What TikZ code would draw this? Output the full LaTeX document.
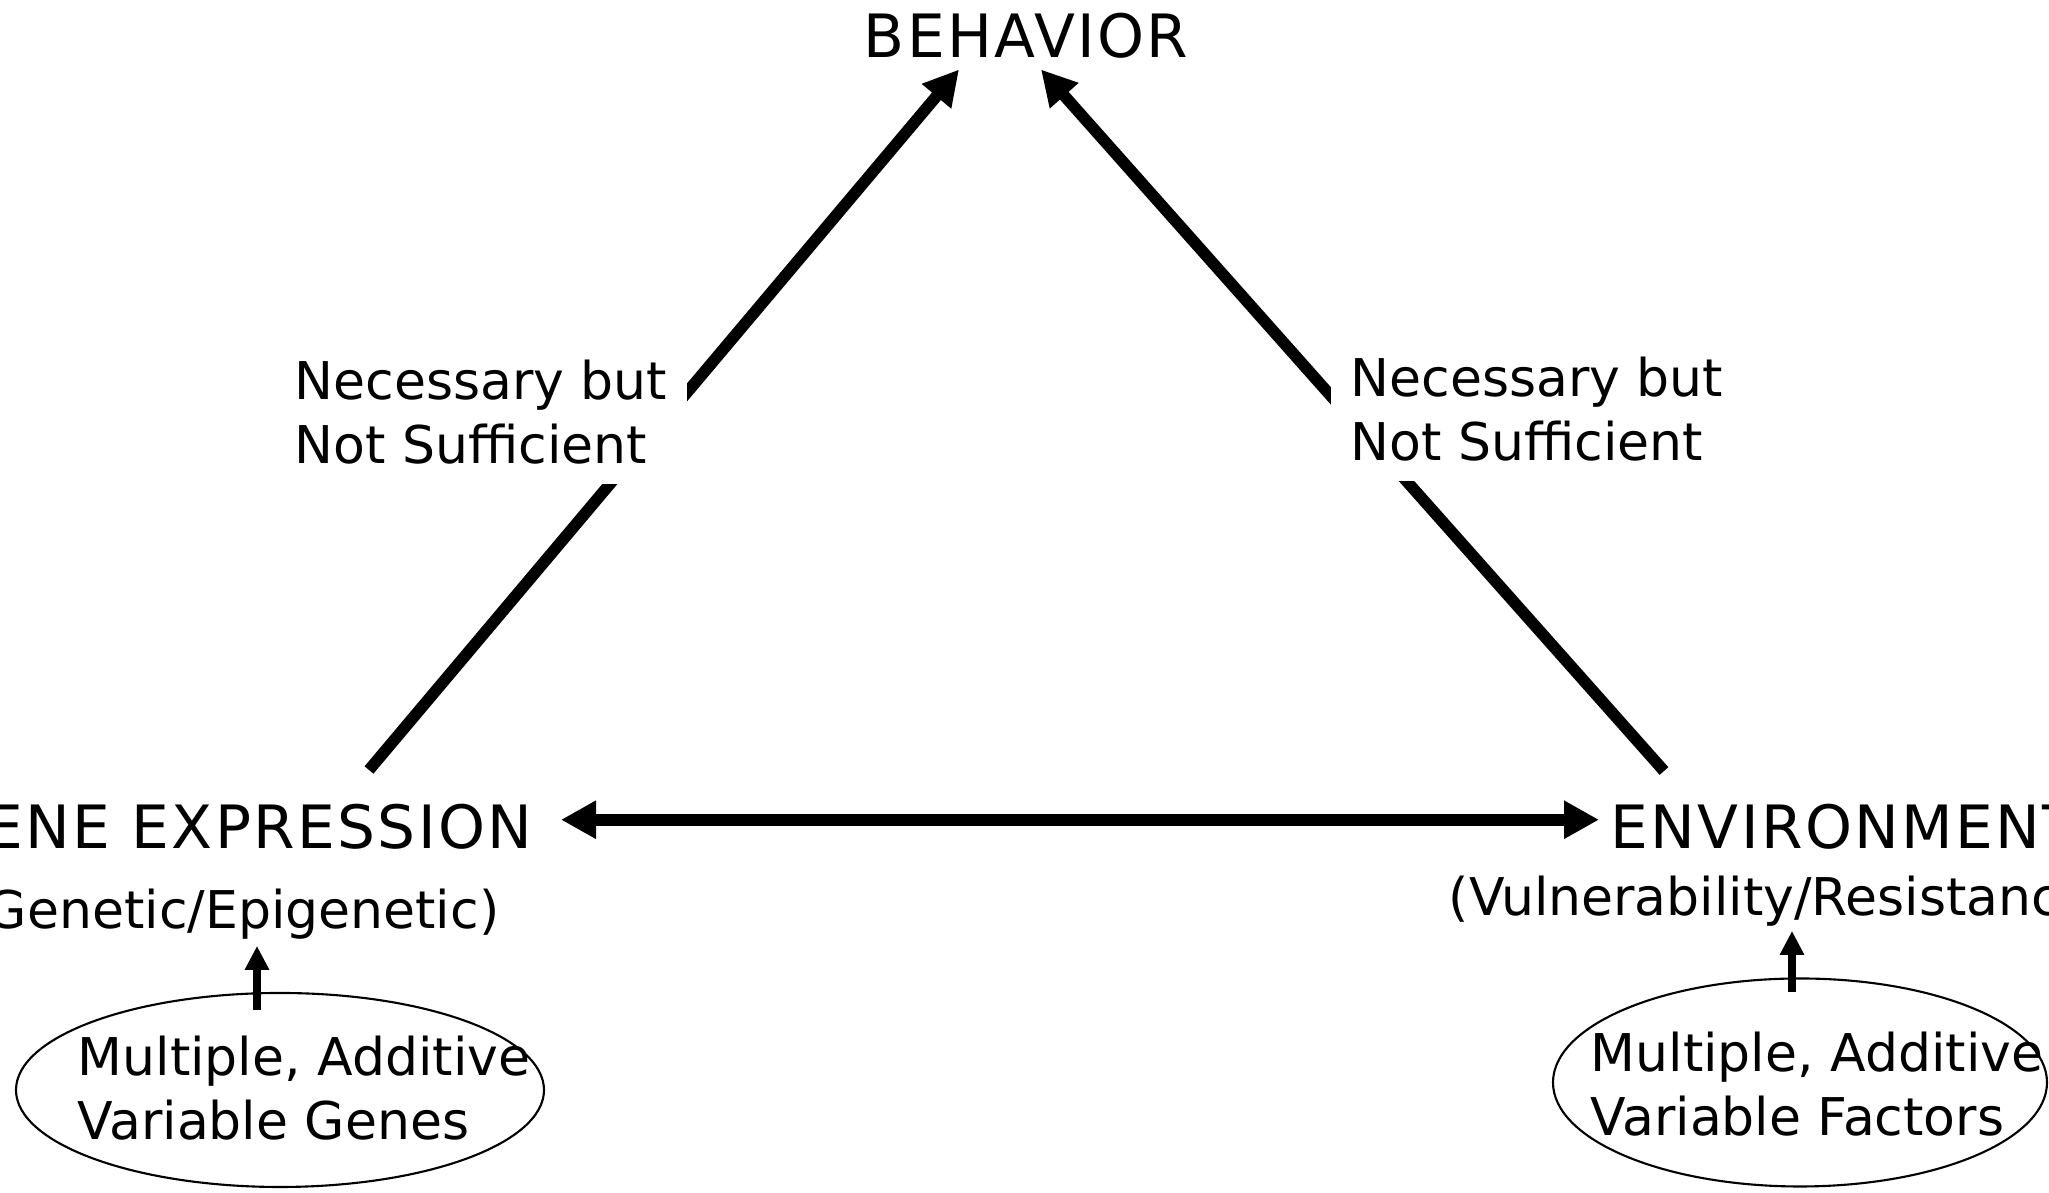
\documentclass[tikz,border=0pt]{standalone}
\usepackage{fontspec}
\usepackage{tikz}
\usetikzlibrary{arrows.meta, shapes.geometric, positioning, calc}
\newfontfamily\dejavu{DejaVu Sans}
\newfontfamily\dejavuwide[LetterSpace=4]{DejaVu Sans}
\newcommand{\headfont}{\dejavuwide\fontsize{17}{20}\selectfont}
\newcommand{\bodyfont}{\dejavu\fontsize{14.8}{18}\selectfont}

\begin{document}
\begin{tikzpicture}[
    heading/.style={font=\headfont, inner sep=0pt},
    sublabel/.style={font=\bodyfont, inner sep=0pt},
    gaplabel/.style={font=\bodyfont, fill=white, align=left, inner xsep=2mm, inner ysep=2mm},
    factors/.style={font=\bodyfont, align=left, inner sep=0pt},
    oval/.style={draw, ellipse, line width=0.6pt, inner sep=0pt},
    bigarrow/.style={line width=3.3pt, -{Triangle[length=3.5mm,width=3.6mm]}},
    twoway/.style={line width=3.3pt, {Triangle[length=3.5mm,width=3.6mm]}-{Triangle[length=3.5mm,width=3.6mm]}},
    smallarrow/.style={line width=2.5pt, -{Triangle[length=2.4mm,width=2.3mm]}}
]
\useasboundingbox (0,0) rectangle (20.49,11.93);

% top
\node[heading, anchor=base] (behavior) at (10.26,11.35) {BEHAVIOR};

% left corner
\node[heading, anchor=base east] (gene) at (5.33,3.44) {GENE EXPRESSION};
\node[sublabel, anchor=base east] (genetic) at (5.00,2.64) {(Genetic/Epigenetic)};
\node[oval, minimum width=5.28cm, minimum height=1.94cm] (genesoval) at (2.80,1.03) {};
\node[factors, anchor=west] (genes) at (0.77,1.05) {Multiple, Additive\\Variable Genes};

% right corner
\node[heading, anchor=base west] (env) at (16.10,3.44) {ENVIRONMENT};
\node[sublabel, anchor=base west] (vuln) at (14.48,2.77) {(Vulnerability/Resistance)};
\node[oval, minimum width=4.94cm, minimum height=2.08cm] (factoroval) at (18.00,1.105) {};
\node[factors, anchor=west] (factors) at (15.90,1.09) {Multiple, Additive\\Variable Factors};

% line ends above the corners
\coordinate (genetop) at (3.69,4.23);
\coordinate (envtop) at (16.64,4.22);

% sides of the triangle
\draw[bigarrow] (genetop) -- ([shift={(-0.67,-0.10)}]behavior.south);
\draw[bigarrow] (envtop) -- ([shift={(0.15,-0.10)}]behavior.south);
\draw[twoway] ([shift={(0.28,0.075)}]gene.east) -- ([shift={(-0.11,0.075)}]env.west);

% labels sit on the sides
\node[gaplabel, anchor=west] (leftnote) at (2.74,7.81) {Necessary but\\Not Sufficient};
\node[gaplabel, anchor=west] (rightnote) at (13.30,7.84) {Necessary but\\Not Sufficient};

% factors feed the corners
\draw[smallarrow] ([shift={(-0.23,-0.18)}]genesoval.north) -- ++(0,0.64);
\draw[smallarrow] ([shift={(-0.08,-0.145)}]factoroval.north) -- ++(0,0.61);
\end{tikzpicture}
\end{document}
